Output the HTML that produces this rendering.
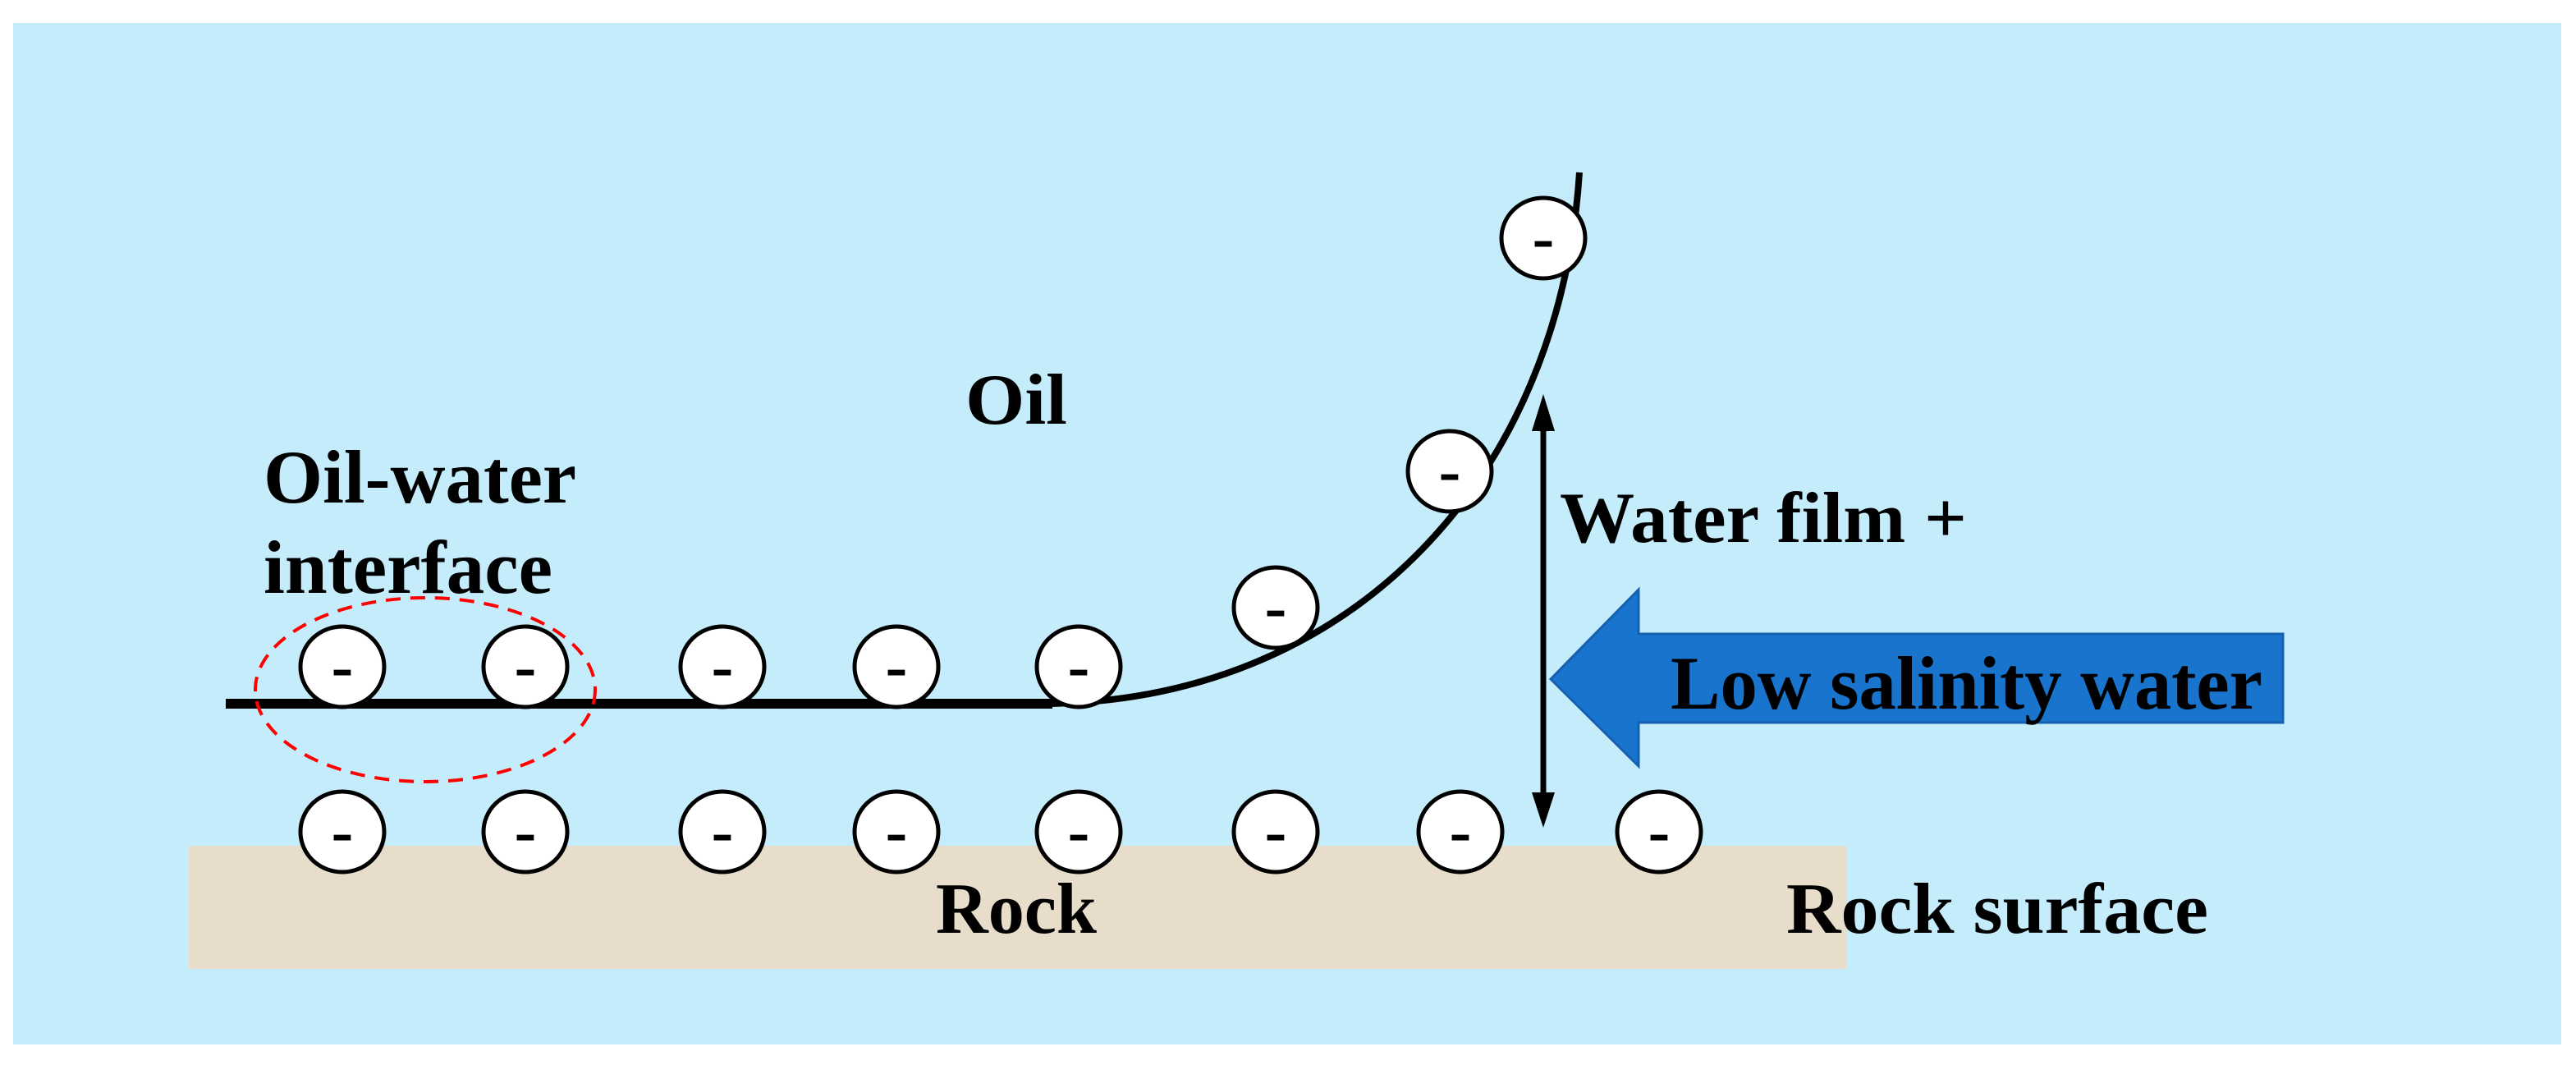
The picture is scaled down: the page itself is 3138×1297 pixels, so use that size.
<!DOCTYPE html>
<html><head><style>html,body{margin:0;padding:0;background:#fff}</style></head><body>
<svg width="3138" height="1292" viewBox="0 0 3138 1292" xmlns="http://www.w3.org/2000/svg" font-family="'Liberation Serif',serif" font-weight="bold">
<rect x="0" y="0" width="3138" height="1292" fill="#fff"/>
<rect x="16" y="28" width="3104" height="1244" fill="#c5ecfb"/>
<rect x="230" y="1030" width="2020" height="150" fill="#e8dccb"/>
<line x1="275" y1="857" x2="1282" y2="857" stroke="#000" stroke-width="12"/>
<path d="M1280,857 C1650,850 1900,580 1924,210" fill="none" stroke="#000" stroke-width="8"/>
<ellipse cx="518" cy="840" rx="207" ry="112" fill="none" stroke="#f00" stroke-width="4" stroke-dasharray="18,12"/>
<g fill="#fff" stroke="#000" stroke-width="5">
<ellipse cx="417" cy="812" rx="51" ry="49"/><ellipse cx="640" cy="812" rx="51" ry="49"/><ellipse cx="880" cy="812" rx="51" ry="49"/><ellipse cx="1092" cy="812" rx="51" ry="49"/><ellipse cx="1314" cy="812" rx="51" ry="49"/>
<ellipse cx="1554" cy="740" rx="51" ry="49"/><ellipse cx="1766" cy="574" rx="51" ry="49"/><ellipse cx="1880" cy="290" rx="51" ry="49"/>
<ellipse cx="417" cy="1013" rx="51" ry="49"/><ellipse cx="640" cy="1013" rx="51" ry="49"/><ellipse cx="880" cy="1013" rx="51" ry="49"/><ellipse cx="1092" cy="1013" rx="51" ry="49"/><ellipse cx="1314" cy="1013" rx="51" ry="49"/><ellipse cx="1554" cy="1013" rx="51" ry="49"/><ellipse cx="1779" cy="1013" rx="51" ry="49"/><ellipse cx="2021" cy="1013" rx="51" ry="49"/>
</g>
<g fill="#000" font-size="80" text-anchor="middle">
<text x="417" y="838">-</text><text x="640" y="838">-</text><text x="880" y="838">-</text><text x="1092" y="838">-</text><text x="1314" y="838">-</text>
<text x="1554" y="766">-</text><text x="1766" y="600">-</text><text x="1880" y="316">-</text>
<text x="417" y="1039">-</text><text x="640" y="1039">-</text><text x="880" y="1039">-</text><text x="1092" y="1039">-</text><text x="1314" y="1039">-</text><text x="1554" y="1039">-</text><text x="1779" y="1039">-</text><text x="2021" y="1039">-</text>
</g>
<line x1="1880" y1="520" x2="1880" y2="970" stroke="#000" stroke-width="7"/>
<polygon points="1880,480 1866,525 1894,525" fill="#000"/>
<polygon points="1880,1008 1866,965 1894,965" fill="#000"/>
<polygon points="1889,827 1996,718 1996,772 2781,772 2781,880 1996,880 1996,933" fill="#1874cd" stroke="#1560b0" stroke-width="3"/>
<g fill="#000">
<text x="2035" y="863" font-size="92" textLength="721" lengthAdjust="spacingAndGlyphs">Low salinity water</text>
<text x="1900" y="660" font-size="88" textLength="496" lengthAdjust="spacingAndGlyphs">Water film +</text>
<text x="1176" y="516" font-size="88" textLength="124" lengthAdjust="spacingAndGlyphs">Oil</text>
<text x="321" y="612" font-size="92" textLength="381" lengthAdjust="spacingAndGlyphs">Oil-water</text>
<text x="321" y="722" font-size="92" textLength="352" lengthAdjust="spacingAndGlyphs">interface</text>
<text x="1140" y="1136" font-size="88" textLength="196" lengthAdjust="spacingAndGlyphs">Rock</text>
<text x="2176" y="1136" font-size="88" textLength="514" lengthAdjust="spacingAndGlyphs">Rock surface</text>
</g>
</svg>
</body></html>
